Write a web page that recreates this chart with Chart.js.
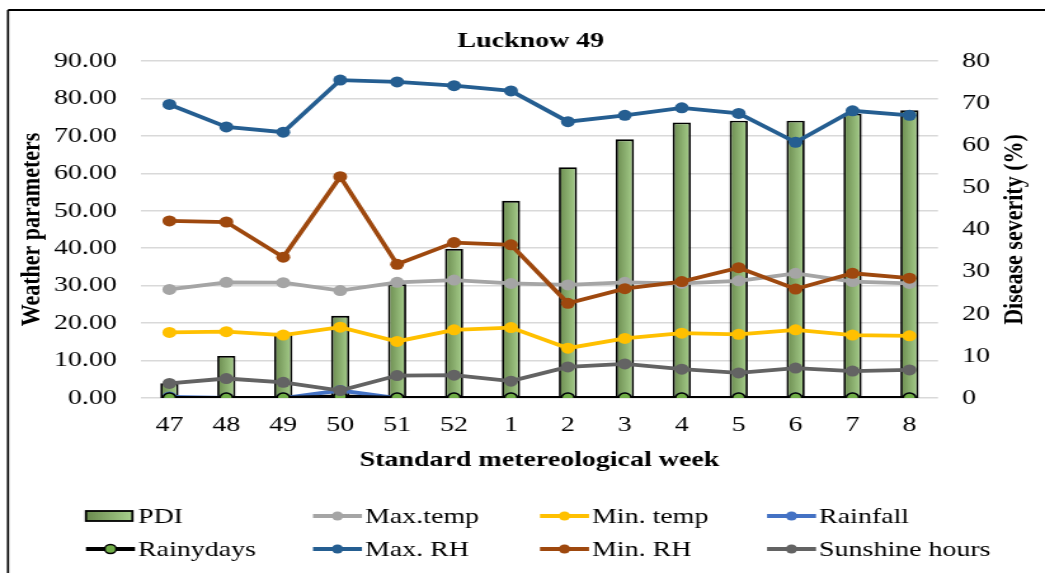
<!DOCTYPE html>
<html>
<head>
<meta charset="utf-8">
<script src="https://cdn.jsdelivr.net/npm/chart.js@4.4.0/dist/chart.umd.min.js"></script>
<style>
  html, body { margin: 0; padding: 0; background: #fff; overflow: hidden; }
  #wrap { width: 823px; height: 573px; transform: scaleX(1.2697); transform-origin: 0 0; }
</style>
</head>
<body>
<div id="wrap"><canvas id="chart" width="823" height="573"></canvas></div>
<script>
const weeks = ['47', '48', '49', '50', '51', '52', '1', '2', '3', '4', '5', '6', '7', '8'];
const pdi = [3.5, 10.0, 15.5, 19.5, 27.0, 35.4, 46.8, 54.8, 61.4, 65.4, 65.8, 65.8, 67.5, 68.3];
const maxTemp = [29.0, 30.9, 30.8, 28.7, 30.9, 31.5, 30.6, 30.2, 30.9, 30.6, 31.3, 33.3, 31.1, 30.6];
const minTemp = [17.5, 17.7, 16.8, 18.9, 15.1, 18.2, 18.8, 13.3, 15.9, 17.3, 17.0, 18.2, 16.8, 16.6];
const rainfall = [0.3, 0, 0, 2.0, 0, 0, 0, 0, 0, 0, 0, 0, 0, 0];
const rainyDays = [0, 0, 0, 0.4, 0, 0, 0, 0, 0, 0, 0, 0, 0, 0];
const maxRH = [78.4, 72.4, 71.0, 84.9, 84.4, 83.4, 82.0, 73.8, 75.5, 77.5, 76.0, 68.3, 76.7, 75.5];
const minRH = [47.3, 47.0, 37.6, 59.1, 35.7, 41.5, 40.9, 25.3, 29.2, 31.1, 34.8, 29.1, 33.3, 32.0];
const sunshine = [3.9, 5.2, 4.2, 2.0, 6.0, 6.1, 4.5, 8.3, 9.1, 7.7, 6.7, 8.0, 7.2, 7.5];
const leftTicks = [0, 10, 20, 30, 40, 50, 60, 70, 80, 90];
const rightTicks = [0, 10, 20, 30, 40, 50, 60, 70, 80];

const FONT = '"Liberation Serif", "Times New Roman", serif';
const BAR_PCT = 0.32;
const barDark = '#6a8a4e';
const barLight = '#a8d08d';

function barFill(c) {
  const chart = c.chart;
  const x = chart.scales && chart.scales.x;
  if (!x || c.dataIndex === undefined) return barLight;
  const cx = x.getPixelForValue(c.dataIndex);
  const w = x.width / weeks.length * BAR_PCT;
  if (!isFinite(cx) || !isFinite(w) || w <= 0) return barLight;
  const g = chart.ctx.createLinearGradient(cx - w / 2, 0, cx + w / 2, 0);
  g.addColorStop(0, barDark);
  g.addColorStop(1, barLight);
  return g;
}

function lineSet(label, data, color, order) {
  return {
    type: 'line', label, data, yAxisID: 'y', order,
    borderColor: color, backgroundColor: color,
    borderWidth: 3.8, pointRadius: 5.5, pointBorderWidth: 0,
    pointBackgroundColor: color, tension: 0
  };
}

const datasets = [
  {
    type: 'bar', label: 'PDI', data: pdi, yAxisID: 'y1', order: 100,
    backgroundColor: barFill, borderColor: '#000', borderWidth: 1.8,
    barPercentage: BAR_PCT, categoryPercentage: 1
  },
  lineSet('Max.temp', maxTemp, '#a5a5a5', 8),
  lineSet('Min. temp', minTemp, '#ffc000', 7),
  lineSet('Rainfall', rainfall, '#4472c4', 6),
  {
    type: 'line', label: 'Rainydays', data: rainyDays, yAxisID: 'y', order: 5,
    borderColor: '#000', backgroundColor: '#70ad47', borderWidth: 3.8,
    pointRadius: 5, pointBackgroundColor: '#70ad47', pointBorderColor: '#000',
    pointBorderWidth: 1.6, tension: 0
  },
  lineSet('Max. RH', maxRH, '#255e91', 4),
  lineSet('Min. RH', minRH, '#9e480e', 3),
  lineSet('Sunshine hours', sunshine, '#636363', 2)
];

// page frame, title, right axis title and legend
const decor = {
  id: 'decor',
  beforeDraw(chart) {
    const c = chart.ctx;
    c.save();
    c.fillStyle = '#fff';
    c.fillRect(0, 0, chart.width, chart.height);
    c.strokeStyle = '#000';
    c.lineWidth = 2;
    c.beginPath();
    c.moveTo(6.3, 10); c.lineTo(chart.width, 10);
    c.stroke();
    c.lineWidth = 1.7;
    c.beginPath();
    c.moveTo(6.3, 10); c.lineTo(6.3, chart.height);
    c.stroke();
    c.restore();
  },
  afterDraw(chart) {
    const c = chart.ctx;
    const area = chart.chartArea;
    c.save();
    c.fillStyle = '#000';
    c.textAlign = 'center';
    c.textBaseline = 'middle';
    c.font = 'bold 22px ' + FONT;
    c.fillText('Lucknow 49', 418, 41);

    // right axis title reads bottom to top, like the left one
    c.save();
    c.translate(799.4, (area.top + area.bottom) / 2);
    c.rotate(-Math.PI / 2);
    c.fillText('Disease severity (%)', 0, 0);
    c.restore();

    c.font = '22px ' + FONT;
    c.textAlign = 'left';
    const colX = 67.7, colStep = 178.8, symW = 38.6, textOff = 41;
    const rows = [516, 549];
    chart.data.datasets.forEach((ds, i) => {
      const col = i % 4, row = Math.floor(i / 4);
      const x0 = colX + col * colStep, y = rows[row];
      if (ds.type === 'bar') {
        const g = c.createLinearGradient(x0, 0, x0 + symW - 2, 0);
        g.addColorStop(0, barDark);
        g.addColorStop(1, barLight);
        c.fillStyle = g;
        c.fillRect(x0, y - 5, symW - 2, 10);
        c.strokeStyle = '#000';
        c.lineWidth = 1.8;
        c.strokeRect(x0, y - 5, symW - 2, 10);
      } else {
        c.strokeStyle = ds.borderColor;
        c.lineWidth = 3.8;
        c.beginPath();
        c.moveTo(x0, y); c.lineTo(x0 + symW, y);
        c.stroke();
        c.beginPath();
        c.arc(x0 + symW / 2, y, 4.5, 0, Math.PI * 2);
        c.fillStyle = ds.pointBackgroundColor;
        c.fill();
        if (ds.pointBorderWidth) {
          c.lineWidth = 1.5;
          c.strokeStyle = ds.pointBorderColor;
          c.stroke();
        }
      }
      c.fillStyle = '#000';
      c.fillText(ds.label, x0 + textOff, y + 1);
    });
    c.restore();
  }
};

const chart = new Chart(document.getElementById('chart'), {
  type: 'bar',
  data: { labels: weeks, datasets },
  options: {
    responsive: false,
    animation: false,
    layout: { padding: { top: 61, bottom: 95, left: 0, right: 0 } },
    plugins: { legend: { display: false }, tooltip: { enabled: false }, title: { display: false } },
    scales: {
      x: {
        grid: { display: false, drawTicks: false },
        border: { display: false },
        ticks: { color: '#000', font: { family: FONT, size: 22 }, padding: 14, maxRotation: 0 },
        title: {
          display: true, text: 'Standard metereological week', color: '#000',
          font: { family: FONT, size: 22, weight: 'bold' }, padding: { top: 0, bottom: 4 }
        },
        afterFit(s) { s.height = 80; }
      },
      y: {
        position: 'left', min: 0, max: 90,
        afterBuildTicks(s) { s.ticks = leftTicks.map(v => ({ value: v })); },
        grid: { color: '#d9d9d9', lineWidth: 1.5, drawTicks: false },
        border: { display: false },
        ticks: { color: '#000', font: { family: FONT, size: 22 }, padding: 19, callback: v => v.toFixed(2) },
        title: {
          display: true, text: 'Weather parameters', color: '#000',
          font: { family: FONT, size: 22, weight: 'bold' }, padding: { top: 12, bottom: 0 }
        },
        afterFit(s) { s.width = 111; }
      },
      y1: {
        position: 'right', min: 0, max: 80,
        afterBuildTicks(s) { s.ticks = rightTicks.map(v => ({ value: v })); },
        grid: { display: false, drawTicks: false },
        border: { display: false },
        ticks: { color: '#000', font: { family: FONT, size: 22 }, padding: 19 },
        afterFit(s) { s.width = 84.3; }
      }
    }
  },
  plugins: [decor]
});
</script>
</body>
</html>
